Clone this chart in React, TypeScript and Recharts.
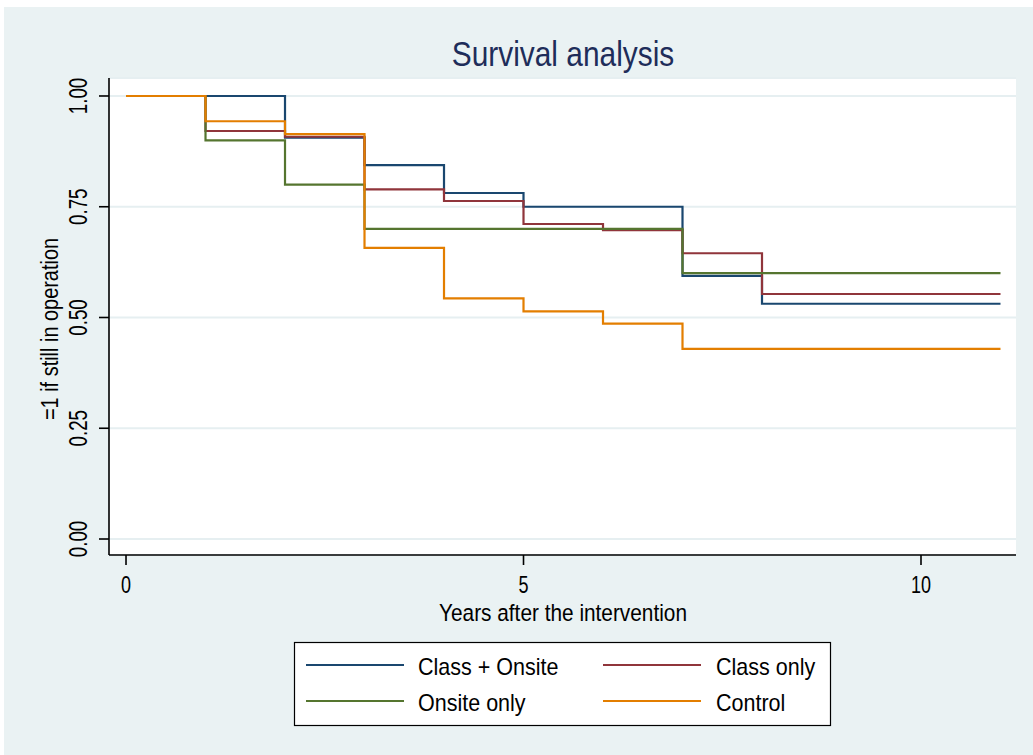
import React from 'react';
import { LineChart, Line, XAxis, YAxis, CartesianGrid } from 'recharts';

const years = [0, 1, 2, 3, 4, 5, 6, 7, 8, 9, 10, 11];
const classOnsite = [1, 1, 0.906, 0.844, 0.781, 0.75, 0.75, 0.594, 0.531, 0.531, 0.531, 0.531];
const classOnly = [1, 0.921, 0.908, 0.789, 0.763, 0.711, 0.697, 0.645, 0.553, 0.553, 0.553, 0.553];
const onsiteOnly = [1, 0.9, 0.8, 0.7, 0.7, 0.7, 0.7, 0.6, 0.6, 0.6, 0.6, 0.6];
const control = [1, 0.943, 0.914, 0.657, 0.543, 0.514, 0.486, 0.429, 0.429, 0.429, 0.429, 0.429];

const seriesNames = ['Class + Onsite', 'Class only', 'Onsite only', 'Control'];
const seriesKeys = ['classOnsite', 'classOnly', 'onsiteOnly', 'control'];
const seriesColors = ['#1A476F', '#90353B', '#55752F', '#E37E00'];
const xTicks = [0, 5, 10];
const yTicks = [0, 0.25, 0.5, 0.75, 1];

const chartTitle = 'Survival analysis';
const xTitle = 'Years after the intervention';
const yTitle = '=1 if still in operation';

const data = years.map((t, i) => ({
  t,
  classOnsite: classOnsite[i],
  classOnly: classOnly[i],
  onsiteOnly: onsiteOnly[i],
  control: control[i],
}));

const FONT = '"Liberation Sans", Arial, Helvetica, sans-serif';

const YTick = (props: any) => {
  const { x, y, payload } = props;
  return (
    <text
      transform={`translate(${x},${y}) rotate(-90) scale(0.75,1)`}
      textAnchor="middle"
      fontSize={25}
      fontFamily={FONT}
      fill="#000"
    >
      {Number(payload.value).toFixed(2)}
    </text>
  );
};

const XTick = (props: any) => {
  const { x, y, payload } = props;
  return (
    <text
      transform={`translate(${x},${y}) scale(0.75,1)`}
      textAnchor="middle"
      fontSize={24}
      fontFamily={FONT}
      fill="#000"
    >
      {String(payload.value)}
    </text>
  );
};

const legendCols = [
  { lineX1: 306, lineX2: 404, textX: 418 },
  { lineX1: 603, lineX2: 701, textX: 716 },
];
const legendRows = [
  { lineY: 665, textY: 675 },
  { lineY: 701, textY: 711 },
];

export default function App() {
  return (
    <div style={{ position: 'fixed', left: 0, top: 0, width: 1033, height: 755, background: '#fff', overflow: 'hidden' }}>
      <div style={{ position: 'absolute', left: 4, top: 7, right: 0, bottom: 0, background: '#EAF2F3' }} />
      <div style={{ position: 'absolute', left: 0, top: 0 }}>
        <LineChart
          width={1033}
          height={755}
          data={data}
          margin={{ top: 78, right: 17, bottom: 140, left: 0 }}
        >
          <CartesianGrid horizontal vertical={false} fill="#ffffff" stroke="#E6EFF1" strokeWidth={2} />
          <XAxis
            dataKey="t"
            type="number"
            domain={[-0.214, 11.195]}
            allowDataOverflow
            ticks={xTicks}
            interval={0}
            height={60}
            tickSize={10}
            tickMargin={28}
            axisLine={{ stroke: '#000', strokeWidth: 1.6 }}
            tickLine={{ stroke: '#000', strokeWidth: 1.6 }}
            tick={<XTick />}
          />
          <YAxis
            type="number"
            domain={[-0.0361, 1.0406]}
            allowDataOverflow
            ticks={yTicks}
            interval={0}
            width={109}
            tickSize={10}
            tickMargin={12}
            axisLine={{ stroke: '#000', strokeWidth: 1.6 }}
            tickLine={{ stroke: '#000', strokeWidth: 1.6 }}
            tick={<YTick />}
          />
          {seriesKeys.map((k, i) => (
            <Line
              key={k}
              type="stepAfter"
              dataKey={k}
              name={seriesNames[i]}
              stroke={seriesColors[i]}
              strokeWidth={2.2}
              dot={false}
              activeDot={false}
              isAnimationActive={false}
            />
          ))}
        </LineChart>
      </div>
      <svg width={1033} height={755} style={{ position: 'absolute', left: 0, top: 0, pointerEvents: 'none' }}>
        <text
          transform="translate(563,66) scale(0.83,1)"
          textAnchor="middle"
          fontSize={36}
          fontFamily={FONT}
          fill="#1E2D5A"
        >
          {chartTitle}
        </text>
        <text
          transform="translate(563,621) scale(0.85,1)"
          textAnchor="middle"
          fontSize={24.5}
          fontFamily={FONT}
          fill="#000"
        >
          {xTitle}
        </text>
        <text
          transform="translate(58,329) rotate(-90) scale(0.83,1)"
          textAnchor="middle"
          fontSize={24}
          fontFamily={FONT}
          fill="#000"
        >
          {yTitle}
        </text>
        <rect x={294.5} y={642.5} width={536} height={83} fill="#fff" stroke="#000" strokeWidth={1.2} />
        {seriesNames.map((name, i) => {
          const col = legendCols[i % 2];
          const row = legendRows[Math.floor(i / 2)];
          return (
            <g key={name}>
              <line x1={col.lineX1} x2={col.lineX2} y1={row.lineY} y2={row.lineY} stroke={seriesColors[i]} strokeWidth={2.2} />
              <text
                transform={`translate(${col.textX},${row.textY}) scale(0.92,1)`}
                fontSize={23.4}
                fontFamily={FONT}
                fill="#000"
              >
                {name}
              </text>
            </g>
          );
        })}
      </svg>
    </div>
  );
}
